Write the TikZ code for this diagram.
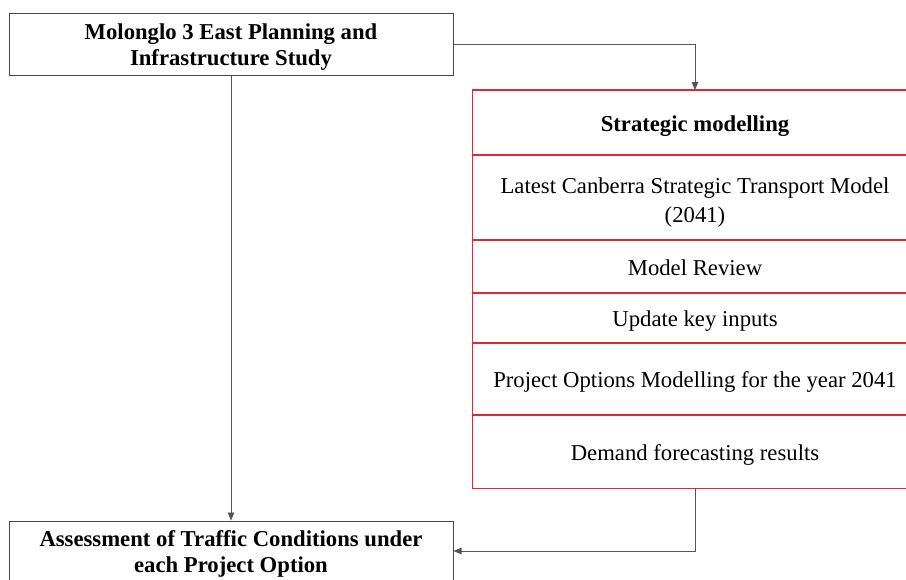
\documentclass[tikz,border=0pt]{standalone}
\usepackage{fontspec}
\setmainfont{Liberation Serif}
\usetikzlibrary{arrows.meta}
\definecolor{edgegray}{HTML}{454545}
\definecolor{linkgray}{HTML}{555555}
\definecolor{stackred}{HTML}{DC2838}
% invisible strut that lowers the first line of a two-line label
\newcommand{\toplift}[1]{\rule{0pt}{#1}}
\begin{document}
\begin{tikzpicture}[x=1pt,y=-1pt,
  txt/.style={font=\fontsize{22.7}{26.5}\selectfont, align=center, inner sep=0pt},
  mainbox/.style={txt, draw=edgegray, line width=1pt, minimum width=444pt,
    font=\fontsize{22.7}{26.5}\selectfont\bfseries},
  stackrow/.style={txt, minimum width=444pt, anchor=north, text height=22pt, text depth=5pt},
  stackline/.style={draw=stackred, line width=1.2pt},
  link/.style={draw=linkgray, line width=0.9pt},
  arr/.style={link, -{Triangle[length=8pt,width=6.5pt]}}
]
\useasboundingbox (0,0) rectangle (906,579);
\fill[white] (0,0) rectangle (906,579);
\clip (0,0) rectangle (906,579);

% study and assessment boxes
\node[mainbox, minimum height=62pt] (study) at (231,44)
  {\toplift{22pt}Molonglo 3 East Planning and\\Infrastructure Study};
\node[mainbox, minimum height=60pt] (assess) at (231,551)
  {\toplift{22pt}Assessment of Traffic Conditions under\\each Project Option};

% strategic modelling stack
\node[stackrow, minimum height=65pt, font=\fontsize{22.7}{26.5}\selectfont\bfseries] (sm) at (695,90) {Strategic modelling};
\node[txt, minimum width=444pt, anchor=north, minimum height=85pt, font=\fontsize{22.7}{29}\selectfont] (cstm) at (695,155)
  {\toplift{26pt}Latest Canberra Strategic Transport Model\\(2041)};
\node[stackrow, minimum height=53pt] (review) at (695,240) {Model Review};
\node[stackrow, minimum height=50pt] (inputs) at (695,293) {Update key inputs};
\node[stackrow, minimum height=72pt] (options) at (695,343) {Project Options Modelling for the year 2041};
\node[stackrow, minimum height=73pt] (demand) at (695,415) {Demand forecasting results};

% stack outline and row dividers
\draw[stackline] (sm.north west) rectangle (demand.south east);
\foreach \row in {cstm,review,inputs,options,demand}
  \draw[stackline] (\row.north west) -- (\row.north east);

% connectors
\draw[arr] (study.south) -- (assess.north);
\draw[arr] (study.east) -| (sm.north);
\draw[arr] (demand.south) |- (assess.east);
\end{tikzpicture}
\end{document}
